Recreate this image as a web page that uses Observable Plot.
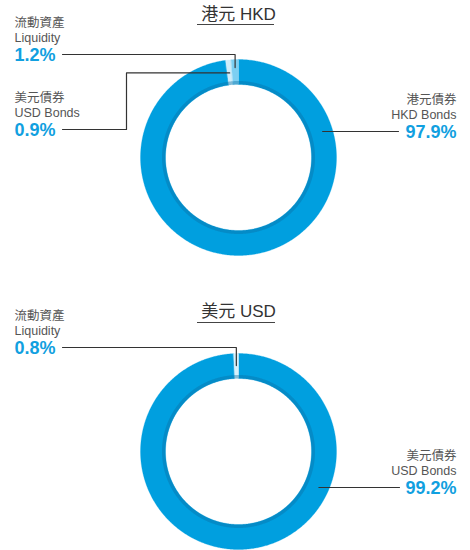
<!DOCTYPE html>
<html>
<head>
<meta charset="utf-8">
<script src="https://cdn.jsdelivr.net/npm/d3@7"></script>
<script src="https://cdn.jsdelivr.net/npm/@observablehq/plot@0.6"></script>
<style>
  html, body { margin: 0; padding: 0; background: #fff; }
  #chart svg { display: block; }
</style>
</head>
<body>
<div id="chart"></div>
<script>
// ---- data ----
const titles = ["港元 HKD", "美元 USD"];
const hkdLabelsZh = ["港元債券", "美元債券", "流動資產"];
const hkdLabelsEn = ["HKD Bonds", "USD Bonds", "Liquidity"];
const hkdValues = [97.9, 0.9, 1.2];
const usdLabelsZh = ["美元債券", "流動資產"];
const usdLabelsEn = ["USD Bonds", "Liquidity"];
const usdValues = [99.2, 0.8];

// ---- styles / layout ----
const W = 470, H = 550;
const FONT = "'Liberation Sans', Arial, 'Noto Sans CJK TC', sans-serif";
const GRAY = "#555", BLUE_TXT = "#11a0e0", LINE = "#333";
const hkdColors = ["#009fdf", "#d0edfa", "#7ccff2"];
const usdColors = ["#009fdf", "#d6f0fb"];
const R_IN = 73, R_OUT = 98;

const donuts = [
  {title: titles[0], cx: 238, cy: 157, titleY: 14, ulY: 24, ulX: [197, 274],
   zh: hkdLabelsZh, en: hkdLabelsEn, values: hkdValues, colors: hkdColors,
   labels: [
     {side: "right", x: 456, y: 99, anchorAngle: 73, anchorR: 88, lineX: 398},
     {side: "left", x: 14, y: 97, elbowX: 126, anchorR: 85, lineX: 62},
     {side: "left", x: 14, y: 22, anchorR: 90, lineX: 62}
   ]},
  {title: titles[1], cx: 238, cy: 451, titleY: 311, ulY: 322, ulX: [197, 275],
   zh: usdLabelsZh, en: usdLabelsEn, values: usdValues, colors: usdColors,
   labels: [
     {side: "right", x: 456, y: 455, anchorAngle: 114, anchorR: 88, lineX: 399},
     {side: "left", x: 14, y: 315, anchorR: 86, lineX: 62}
   ]}
];

const rad = d => d * Math.PI / 180;
function polar(cx, cy, r, a) { return [cx + r * Math.sin(a), cy - r * Math.cos(a)]; }
function ringPoly(cx, cy, r0, r1, a0, a1) {
  const n = Math.max(2, Math.ceil((a1 - a0) / rad(0.5)));
  const pts = [];
  for (let i = 0; i <= n; i++) { const a = a0 + (a1 - a0) * i / n; const [x, y] = polar(cx, cy, r1, a); pts.push({x, y}); }
  for (let i = n; i >= 0; i--) { const a = a0 + (a1 - a0) * i / n; const [x, y] = polar(cx, cy, r0, a); pts.push({x, y}); }
  return pts;
}

const marks = [];
for (const d of donuts) {
  const total = d3.sum(d.values);
  let acc = 0;
  const arcs = d.values.map((v, i) => {
    const a0 = acc / total * 2 * Math.PI; acc += v;
    const a1 = acc / total * 2 * Math.PI;
    return {i, a0, a1, mid: (a0 + a1) / 2};
  });
  for (const a of arcs) {
    marks.push(Plot.line(ringPoly(d.cx, d.cy, R_IN, R_OUT, a.a0, a.a1),
      {x: "x", y: "y", fill: d.colors[a.i], stroke: d.colors[a.i], strokeWidth: 0.3, curve: "linear-closed"}));
  }
  marks.push(Plot.line(ringPoly(d.cx, d.cy, R_IN, R_IN + 3.5, 0, 2 * Math.PI),
    {x: "x", y: "y", fill: "#0a6fa3", fillOpacity: 0.4, stroke: "none", curve: "linear-closed"}));
  marks.push(Plot.text([d.title], {x: d.cx, y: d.titleY, text: t => t, fontSize: 17, fill: "#333", fontFamily: FONT, textAnchor: "middle"}));
  marks.push(Plot.ruleY([d.ulY], {x1: d.ulX[0], x2: d.ulX[1], stroke: "#444", strokeWidth: 1}));
  arcs.forEach(a => {
    const L = d.labels[a.i];
    const anchor = L.side === "right" ? "end" : "start";
    const pct = d3.format(".1f")(d.values[a.i]) + "%";
    const lines = [
      {t: d.zh[a.i], y: L.y, size: 12.5, w: "normal", c: GRAY},
      {t: d.en[a.i], y: L.y + 15.5, size: 12.5, w: "normal", c: GRAY},
      {t: pct, y: L.y + 32.5, size: 18, w: "bold", c: BLUE_TXT}
    ];
    for (const ln of lines) {
      marks.push(Plot.text([ln.t], {x: L.x, y: ln.y, text: t => t, fontSize: ln.size, fontWeight: ln.w, fill: ln.c, fontFamily: FONT, textAnchor: anchor}));
    }
    const ly = L.y + 32;
    let path;
    if (L.side === "right") {
      const [ex] = polar(d.cx, d.cy, L.anchorR, rad(L.anchorAngle));
      path = [{x: ex, y: ly}, {x: L.lineX, y: ly}];
    } else {
      const [ex, ey] = polar(d.cx, d.cy, L.anchorR, a.mid);
      if (L.elbowX != null) {
        path = [{x: L.lineX, y: ly}, {x: L.elbowX, y: ly}, {x: L.elbowX, y: ey}, {x: ex, y: ey}];
      } else {
        path = [{x: L.lineX, y: ly}, {x: ex, y: ly}, {x: ex, y: ey}];
      }
    }
    marks.push(Plot.line(path, {x: "x", y: "y", stroke: LINE, strokeWidth: 1.2}));
  });
}

const chart = Plot.plot({
  width: W, height: H,
  margin: 0,
  x: {domain: [0, W], range: [0, W], axis: null},
  y: {domain: [0, H], range: [0, H], axis: null},
  style: {background: "#fff", fontFamily: FONT},
  marks
});
document.getElementById("chart").append(chart);
</script>
</body>
</html>
